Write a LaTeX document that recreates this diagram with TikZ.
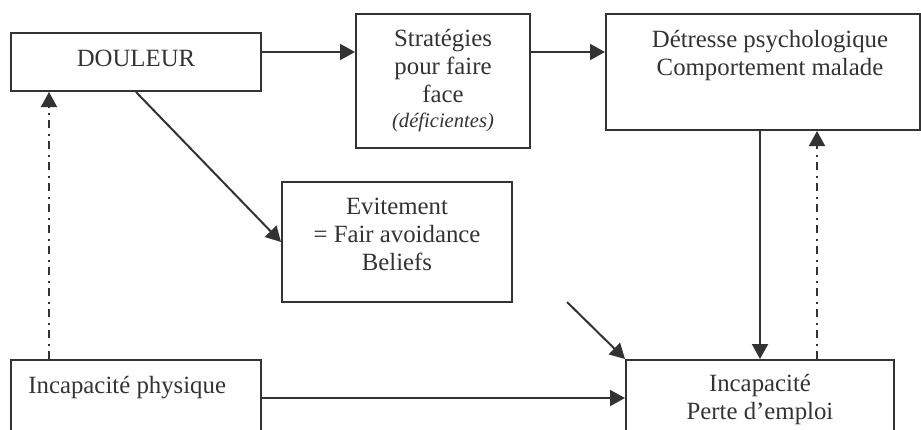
\documentclass[tikz,border=0pt]{standalone}
\usepackage{fontspec}
\setmainfont{Liberation Serif}
\usetikzlibrary{arrows.meta}
\definecolor{ink}{gray}{0.2}
\tikzset{box/.style={draw=ink,line width=1pt,inner sep=0pt}}
\tikzset{lbl/.style={text=ink,align=center,inner sep=0pt,font=\fontsize{12.4}{14}\selectfont}}
\tikzset{arr/.style={draw=ink,line width=1pt,-{Triangle[length=7.5pt,width=8pt]}}}
\tikzset{dd/.style={arr,line width=0.8pt,dash pattern=on 4pt off 2.75pt on 1pt off 2.75pt}}
\begin{document}
\begin{tikzpicture}[x=0.5pt,y=-0.5pt]
    \clip (0,0) rectangle (921,429);
    \node[box,minimum width=125pt,minimum height=29pt] (dou) at (136,62) {};
    \node[box,minimum width=87pt,minimum height=67pt] (strat) at (443,81) {};
    \node[box,minimum width=157pt,minimum height=58pt] (detr) at (763,72) {};
    \node[box,minimum width=115pt,minimum height=60pt] (evit) at (397,242) {};
    \node[box,minimum width=125pt,minimum height=50pt] (incp) at (136,410) {};
    \node[box,minimum width=134pt,minimum height=50pt] (perte) at (760,410) {};
    \node[lbl] (doulab) at (136,58) {DOULEUR};
    \node[lbl] (stratlab) at (443,81) {Stratégies\\pour faire\\face\\[-1.5pt]{\fontsize{10.3}{12}\itshape(déficientes)}};
    \node[lbl] (detrlab) at (770,56) {Détresse psychologique\\Comportement malade};
    \node[lbl] (evitlab) at (397,234) {Evitement\\= Fair avoidance\\Beliefs};
    \node[lbl,anchor=base west] (incplab) at (28,393) {Incapacité physique};
    \node[lbl] (pertelab) at (760,400) {Incapacité\\Perte d’emploi};
    \coordinate (src) at (567,302);
    \coordinate (pd) at ([xshift=28.5pt]perte.north);
    \draw[arr] ([yshift=5pt]dou.east) -- ([yshift=14.5pt]strat.west);
    \draw[arr] ([yshift=14.5pt]strat.east) -- ([yshift=10pt]detr.west);
    \draw[arr] (dou.south) -- (evit.west);
    \draw[dd] ([xshift=-43.5pt]incp.north) -- ([xshift=-43.5pt]dou.south);
    \draw[arr] (detr.south -| perte.north) -- (perte.north);
    \draw[dd] (pd) -- (pd |- detr.south);
    \draw[arr] (src) -- (perte.north west);
    \draw[arr] ([yshift=6pt]incp.east) -- ([yshift=6pt]perte.west);
  \end{tikzpicture}
\end{document}
